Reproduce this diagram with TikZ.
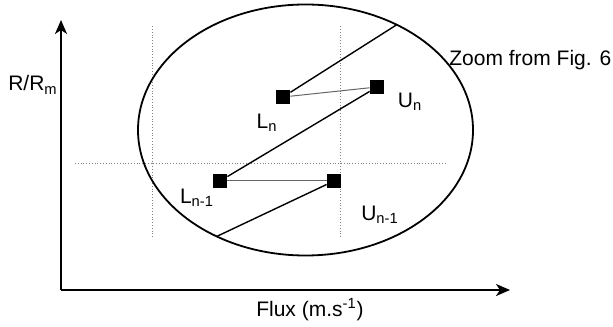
\documentclass[tikz,border=0pt]{standalone}
\usepackage{fontspec}
\setmainfont{Liberation Sans}
\usetikzlibrary{arrows.meta}

\begin{document}
\begin{tikzpicture}[x=0.5pt,y=0.5pt,
  markbox/.style={fill=black,minimum size=7pt,inner sep=0pt},
  guide/.style={gray,densely dotted,line width=0.4pt},
  link/.style={gray!80!black,line width=0.5pt},
  trail/.style={black,line width=0.7pt},
  axis/.style={line width=1.1pt,-{Stealth[length=7pt,width=6pt,inset=2pt]}},
  lbl/.style={font=\fontsize{10.5}{12}\selectfont,inner sep=1pt}]
  \useasboundingbox (0,0) rectangle (613,326);
  % axes
  \coordinate (O) at (61,36);
  \coordinate (ytip) at (61,306);
  \coordinate (xtip) at (510,36);
  \draw[axis] (O) -- (ytip);
  \draw[axis] (O) -- (xtip);
  \node[lbl] (ylab) at (33,241) {R/R\textsubscript{m}};
  \node[lbl] (xlab) at (310,16) {Flux (m.s\textsuperscript{-1})};
  % dotted guides
  \foreach \x in {152,340}{
    \draw[guide] (\x,89) -- (\x,301);
  }
  \draw[guide] (75,163) -- (446,163);
  % zoom ellipse
  \coordinate (C) at (305.5,196);
  \draw[line width=0.9pt] (C) ellipse [x radius=167.5,y radius=125.5];
  \path (C) ++(57:167.5 and 125.5) coordinate (E1);
  \path (C) ++(238:167.5 and 125.5) coordinate (E2);
  \node[lbl,anchor=west] (zoom) at (447,266) {Zoom from Fig. 6};
  % points
  \node[markbox] (Ln) at (283,229) {};
  \node[markbox] (Un) at (377,239) {};
  \node[markbox] (Lnm) at (220,145) {};
  \node[markbox] (Unm) at (334,145) {};
  \node[lbl] at (267,203) {L\textsubscript{n}};
  \node[lbl] at (410,224) {U\textsubscript{n}};
  \node[lbl] at (197,128) {L\textsubscript{n-1}};
  \node[lbl] at (380,111) {U\textsubscript{n-1}};
  % path
  \draw[trail] (E1) -- (Ln);
  \draw[link] (Ln) -- (Un);
  \draw[trail] (Un) -- (Lnm);
  \draw[link] (Lnm) -- (Unm);
  \draw[trail] (Unm) -- (E2);
\end{tikzpicture}
\end{document}
